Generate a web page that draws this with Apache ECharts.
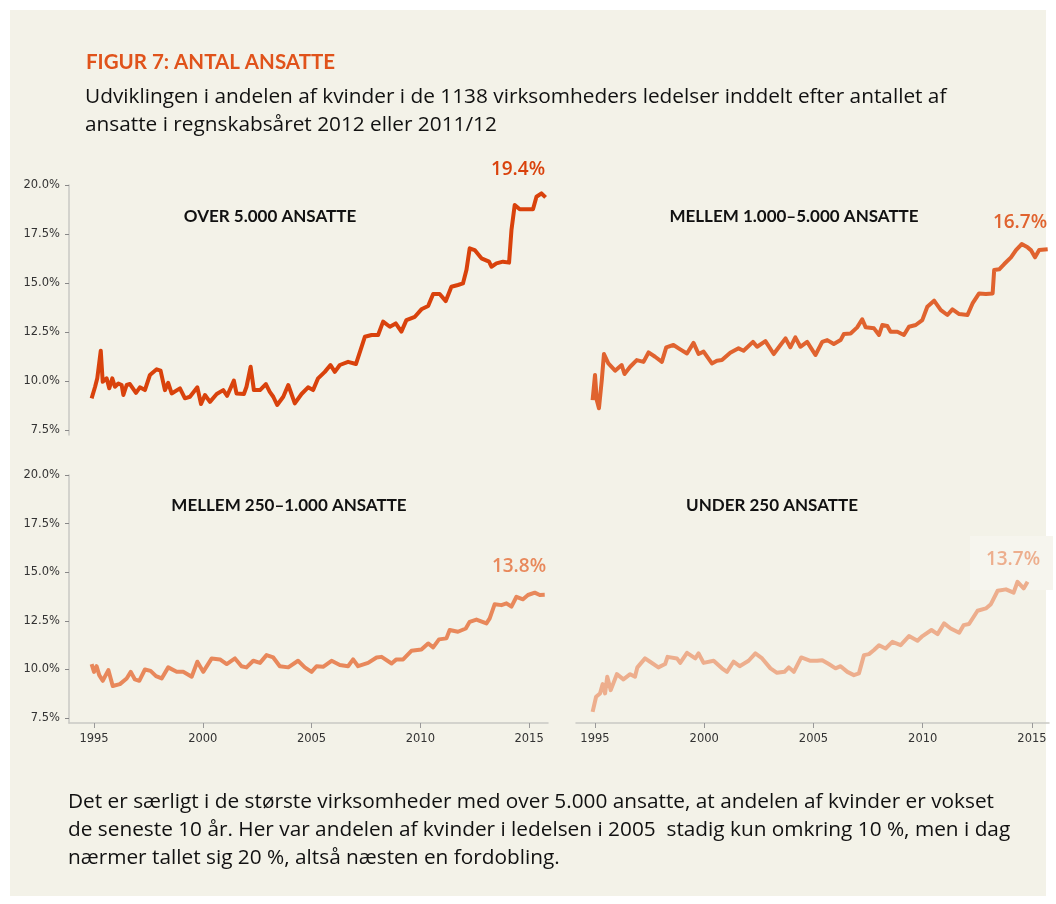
<!DOCTYPE html>
<html>
<head>
<meta charset="utf-8">
<script src="https://cdn.jsdelivr.net/npm/echarts@6/dist/echarts.min.js"></script>
<style>
html, body { margin: 0; padding: 0; background: #fff; }
#frame { position: absolute; left: 10px; top: 10px; width: 1036px; height: 886px; background: #f3f2e8; }
#chart { position: absolute; left: 0; top: 0; width: 1056px; height: 904px; }
</style>
</head>
<body>
<div id="frame"></div>
<div id="chart"></div>
<script>
// tick labels
const yearTicks = [1995, 2000, 2005, 2010, 2015];
const pctTicks = [7.5, 10, 12.5, 15, 17.5, 20];

// over 5.000 ansatte
const over5000Years = [1994.89,1995.05,1995.15,1995.31,1995.40,1995.58,1995.70,1995.84,1995.96,1996.12,
  1996.27,1996.35,1996.50,1996.65,1996.93,1997.11,1997.34,1997.57,1997.88,1998.06,
  1998.26,1998.41,1998.57,1998.95,1999.18,1999.41,1999.75,1999.92,2000.10,2000.33,
  2000.64,2000.94,2001.12,2001.43,2001.55,2001.89,2002.01,2002.20,2002.35,2002.63,
  2002.90,2003.08,2003.24,2003.42,2003.70,2003.93,2004.23,2004.54,2004.84,2005.07,
  2005.30,2005.61,2005.87,2006.07,2006.30,2006.68,2007.04,2007.30,2007.45,2007.76,
  2008.06,2008.29,2008.60,2008.87,2009.13,2009.36,2009.75,2010.05,2010.36,2010.59,
  2010.89,2011.17,2011.43,2011.73,2011.96,2012.12,2012.27,2012.50,2012.81,2013.16,
  2013.27,2013.50,2013.80,2014.08,2014.19,2014.34,2014.57,2015.18,2015.34,2015.57,2015.76];
const over5000 = [9.12,9.71,10.14,11.55,9.96,10.14,9.63,10.14,9.71,9.88,
  9.80,9.29,9.80,9.85,9.40,9.68,9.54,10.31,10.60,10.53,
  9.54,9.91,9.37,9.63,9.12,9.20,9.68,8.83,9.29,8.94,
  9.34,9.54,9.25,10.02,9.37,9.34,9.71,10.73,9.54,9.54,
  9.85,9.45,9.20,8.78,9.20,9.80,8.86,9.34,9.68,9.54,
  10.14,10.47,10.82,10.47,10.82,10.98,10.87,11.75,12.26,12.35,
  12.35,13.03,12.77,12.94,12.52,13.11,13.28,13.66,13.83,14.44,
  14.44,14.08,14.81,14.90,14.98,15.66,16.77,16.68,16.26,16.09,
  15.83,16.00,16.09,16.04,17.70,18.98,18.76,18.76,19.40,19.57,19.37];

// mellem 1.000-5.000 ansatte
const mid1000Years = [1994.89,1995.0,1995.08,1995.18,1995.31,1995.41,1995.61,1995.92,1996.22,1996.35,
  1996.61,1996.91,1997.22,1997.45,1997.75,1998.06,1998.26,1998.59,1998.9,1999.21,
  1999.51,1999.74,1999.97,2000.35,2000.58,2000.81,2001.19,2001.57,2001.8,2002.23,
  2002.42,2002.8,2003.18,2003.49,2003.72,2003.94,2004.17,2004.4,2004.71,2005.09,
  2005.4,2005.63,2005.93,2006.24,2006.39,2006.7,2007.0,2007.23,2007.39,2007.77,
  2008.0,2008.15,2008.38,2008.53,2008.84,2009.14,2009.37,2009.68,2009.98,2010.21,
  2010.52,2010.83,2011.13,2011.36,2011.67,2012.05,2012.28,2012.58,2012.89,2013.2,
  2013.27,2013.5,2013.73,2014.04,2014.27,2014.53,2014.8,2014.95,2015.14,2015.33,2015.72];
const mid1000 = [9.03,10.31,9.03,8.61,10.05,11.38,10.9,10.53,10.82,10.36,
  10.73,11.07,10.98,11.46,11.24,10.98,11.72,11.84,11.62,11.41,
  11.95,11.38,11.5,10.9,11.04,11.07,11.44,11.67,11.55,12.0,
  11.75,12.04,11.38,11.84,12.18,11.72,12.23,11.75,12.0,11.33,
  12.0,12.09,11.89,12.09,12.4,12.43,12.74,13.15,12.74,12.69,
  12.35,12.86,12.81,12.52,12.52,12.35,12.77,12.86,13.11,13.79,
  14.1,13.62,13.37,13.66,13.42,13.37,13.96,14.47,14.44,14.47,
  15.66,15.7,15.97,16.31,16.68,16.99,16.82,16.68,16.31,16.68,16.72];

// mellem 250-1.000 ansatte
const mid250Years = [1994.89,1995.0,1995.12,1995.24,1995.40,1995.66,1995.86,1996.19,1996.50,1996.69,
  1996.88,1997.08,1997.34,1997.60,1997.85,1998.11,1998.41,1998.80,1999.10,1999.49,
  1999.75,2000.02,2000.41,2000.79,2001.10,2001.48,2001.78,2002.01,2002.32,2002.63,
  2002.93,2003.24,2003.54,2003.93,2004.38,2004.69,2005.0,2005.23,2005.53,2005.92,
  2006.30,2006.68,2006.91,2007.14,2007.60,2007.99,2008.22,2008.68,2008.90,2009.21,
  2009.59,2010.05,2010.36,2010.59,2010.86,2011.20,2011.35,2011.73,2012.09,2012.27,
  2012.58,2013.04,2013.19,2013.42,2013.73,2013.96,2014.19,2014.42,2014.72,2014.95,
  2015.26,2015.49,2015.72];
const mid250 = [10.28,9.88,10.17,9.71,9.42,9.97,9.15,9.25,9.54,9.88,
  9.49,9.42,10.0,9.93,9.66,9.54,10.11,9.88,9.88,9.63,
  10.4,9.88,10.57,10.52,10.28,10.57,10.17,10.11,10.45,10.34,
  10.74,10.62,10.17,10.11,10.45,10.11,9.88,10.17,10.14,10.45,
  10.23,10.17,10.52,10.17,10.34,10.62,10.65,10.31,10.52,10.52,
  10.96,11.03,11.34,11.14,11.55,11.6,12.03,11.94,12.11,12.45,
  12.57,12.37,12.63,13.36,13.31,13.4,13.23,13.74,13.61,13.83,
  13.95,13.83,13.84];

// under 250 ansatte
const under250Years = [1994.89,1995.05,1995.23,1995.35,1995.46,1995.56,1995.72,1996.0,1996.3,1996.61,
  1996.83,1996.94,1997.29,1997.52,1997.9,1998.21,1998.32,1998.75,1998.9,1999.21,
  1999.59,1999.74,1999.97,2000.43,2000.81,2001.04,2001.34,2001.62,2002.03,2002.34,
  2002.65,2003.03,2003.33,2003.67,2003.87,2004.1,2004.44,2004.86,2005.17,2005.4,
  2005.7,2006.01,2006.24,2006.55,2006.85,2007.08,2007.31,2007.54,2007.77,2008.0,
  2008.3,2008.61,2008.99,2009.37,2009.76,2009.99,2010.4,2010.68,2010.98,2011.28,
  2011.67,2011.87,2012.12,2012.51,2012.89,2013.12,2013.43,2013.81,2014.16,2014.34,
  2014.62,2014.8];
const under250 = [7.82,8.6,8.77,9.25,8.77,9.63,8.94,9.76,9.49,9.76,
  9.63,10.11,10.57,10.4,10.11,10.28,10.65,10.57,10.34,10.86,
  10.57,10.83,10.34,10.45,10.06,9.88,10.4,10.17,10.45,10.83,
  10.57,10.06,9.83,9.88,10.11,9.88,10.62,10.45,10.45,10.48,
  10.28,10.06,10.17,9.88,9.71,9.8,10.74,10.79,11.0,11.25,
  11.08,11.42,11.25,11.72,11.48,11.72,12.03,11.82,12.37,12.11,
  11.89,12.28,12.34,13.02,13.14,13.36,14.05,14.12,13.95,14.51,
  14.17,14.51];

const panelTitles = ["OVER 5.000 ANSATTE", "MELLEM 1.000\u20135.000 ANSATTE", "MELLEM 250\u20131.000 ANSATTE", "UNDER 250 ANSATTE"];
const endLabels = ["19.4%", "16.7%", "13.8%", "13.7%"];
const colors = ["#d9420c", "#e0632f", "#e8885b", "#edae8d"];

const pairs = (xs, ys) => xs.map((x, i) => [x, ys[i]]);
const seriesData = [
  pairs(over5000Years, over5000),
  pairs(mid1000Years, mid1000),
  pairs(mid250Years, mid250),
  pairs(under250Years, under250)
];

const grids = [
  { left: 69, top: 185, width: 479, height: 250 },
  { left: 576, top: 185, width: 473, height: 250 },
  { left: 69, top: 475, width: 479, height: 248 },
  { left: 576, top: 475, width: 473, height: 248 }
];
const xRange = [[1993.85, 2015.87], [1994.13, 2015.78]];

const tickFont = { color: "#333", fontSize: 11.5, fontFamily: "DejaVu Sans" };

function xAxisFor(i) {
  const side = i % 2;
  const bottom = i >= 2;
  return {
    gridIndex: i, type: "value", min: xRange[side][0], max: xRange[side][1],
    show: bottom,
    axisLine: { show: true, lineStyle: { color: "#c9c9c4", width: 1.5 } },
    axisTick: { show: true, length: 5, customValues: yearTicks, lineStyle: { color: "#999" } },
    axisLabel: Object.assign({ customValues: yearTicks, margin: 10, formatter: v => String(v) }, tickFont),
    splitLine: { show: false }
  };
}
function yAxisFor(i) {
  const left = i % 2 === 0;
  return {
    gridIndex: i, type: "value", min: 7.25, max: 20,
    show: left,
    axisLine: { show: true, lineStyle: { color: "#c9c9c4", width: 1.5 } },
    axisTick: { show: true, length: 4, customValues: pctTicks, lineStyle: { color: "#888" } },
    axisLabel: Object.assign({ customValues: pctTicks, margin: 9, formatter: v => v.toFixed(1) + "%" }, tickFont),
    splitLine: { show: false }
  };
}

const titlePos = [[270, 217], [794, 217], [289, 506], [772, 506]];
const labelPos = [[518, 170], [1020, 223], [519, 567], [1013, 560]];
const bodyFont = "20.8px 'Open Sans'";

const graphics = [
  { type: "text", x: 86, y: 62, style: { text: "FIGUR 7: ANTAL ANSATTE", font: "bold 20.5px Lato", fill: "#e0531b", verticalAlign: "middle" } },
  { type: "text", x: 85, y: 97, style: { text: "Udviklingen i andelen af kvinder i de 1138 virksomheders ledelser inddelt efter antallet af", font: bodyFont, fill: "#111", verticalAlign: "middle" } },
  { type: "text", x: 85, y: 125, style: { text: "ansatte i regnskabsåret 2012 eller 2011/12", font: bodyFont, fill: "#111", verticalAlign: "middle" } },
  { type: "rect", shape: { x: 970, y: 536, width: 83, height: 54 }, style: { fill: "#f6f5ee" }, z: -1 },
  { type: "text", x: 68, y: 802, style: { text: "Det er særligt i de største virksomheder med over 5.000 ansatte, at andelen af kvinder er vokset", font: bodyFont, fill: "#111", verticalAlign: "middle" } },
  { type: "text", x: 68, y: 830, style: { text: "de seneste 10 år. Her var andelen af kvinder i ledelsen i 2005  stadig kun omkring 10 %, men i dag", font: bodyFont, fill: "#111", verticalAlign: "middle" } },
  { type: "text", x: 68, y: 858, style: { text: "nærmer tallet sig 20 %, altså næsten en fordobling.", font: bodyFont, fill: "#111", verticalAlign: "middle" } }
];
panelTitles.forEach((t, i) => {
  graphics.push({ type: "text", x: titlePos[i][0], y: titlePos[i][1],
    style: { text: t, font: "bold 17px Lato", fill: "#111", align: "center", verticalAlign: "middle" } });
});
endLabels.forEach((t, i) => {
  graphics.push({ type: "text", x: labelPos[i][0], y: labelPos[i][1],
    style: { text: t, font: "600 19px 'Open Sans'", fill: colors[i], align: "center", verticalAlign: "middle" } });
});

const chart = echarts.init(document.getElementById("chart"), null, { renderer: "canvas" });
chart.setOption({
  animation: false,
  backgroundColor: "transparent",
  grid: grids,
  xAxis: [0, 1, 2, 3].map(xAxisFor),
  yAxis: [0, 1, 2, 3].map(yAxisFor),
  series: seriesData.map((d, i) => ({
    type: "line", xAxisIndex: i, yAxisIndex: i, data: d,
    showSymbol: false, symbol: "none",
    lineStyle: { color: colors[i], width: 4, join: "round" }
  })),
  graphic: graphics
});
</script>
</body>
</html>
